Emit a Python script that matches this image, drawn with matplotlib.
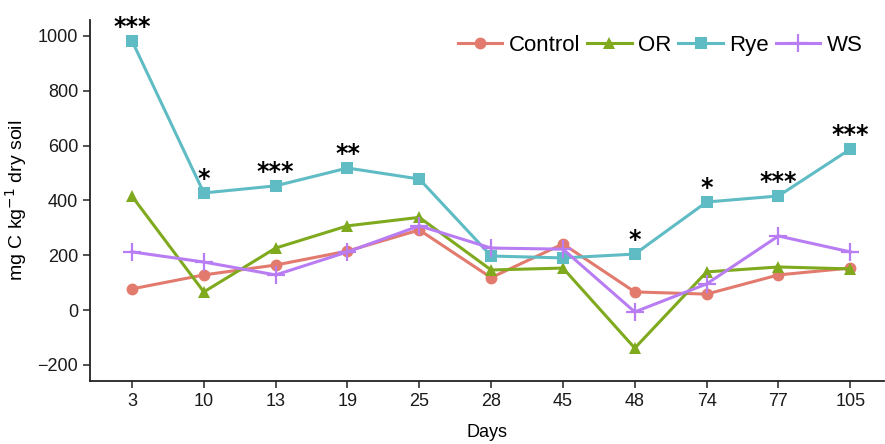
import matplotlib
matplotlib.use("Agg")
import matplotlib.pyplot as plt

plt.rcParams['font.family'] = ['Liberation Sans', 'DejaVu Sans']

days = ["3", "10", "13", "19", "25", "28", "45", "48", "74", "77", "105"]
control = [77, 128, 164, 215, 292, 118, 241, 66, 58, 128, 153]
oreg = [415, 66, 226, 307, 338, 146, 153, -139, 139, 157, 150]
rye = [982, 427, 453, 518, 478, 197, 190, 204, 394, 416, 587]
ws = [212, 175, 128, 212, 307, 226, 222, -7, 95, 270, 212]
sig = ["***", "*", "***", "**", "", "", "", "*", "*", "***", "***"]

series_names = ["Control", "OR", "Rye", "WS"]
colors = ["#E27A6E", "#7FAA1E", "#5FBCC4", "#B97DF3"]
markers = ["o", "^", "s", "+"]

fig = plt.figure(figsize=(8.85, 4.44), dpi=100)
ax = fig.add_axes([90/885, 63/444, (884-90)/885, (381-20)/444])

x = list(range(len(days)))
for name, vals, c, m in zip(series_names, [control, oreg, rye, ws], colors, markers):
    if m == "+":
        ax.plot(x, vals, color=c, lw=2.2, marker=m, ms=13, mew=1.6, label=name)
    else:
        ax.plot(x, vals, color=c, lw=2.2, marker=m, ms=8.5, mew=0, label=name)

for xi, s, r in zip(x, sig, rye):
    if s:
        ax.annotate(s, (xi, r), xytext=(0, 5), textcoords="offset points",
                    ha="center", va="baseline", fontsize=17, fontweight="bold",
                    family="DejaVu Sans", color="black")

ax.set_xlim(-0.585, 10.47)
ax.set_ylim(-259, 1058)
ax.set_xticks(x)
ax.set_xticklabels(days)
ax.set_yticks([-200, 0, 200, 400, 600, 800, 1000])
ax.set_yticklabels(["\u2212200", "0", "200", "400", "600", "800", "1000"])
ax.tick_params(labelsize=13, length=5, width=1.2, colors="#333333", labelcolor="#1a1a1a")
for s in ["top", "right"]:
    ax.spines[s].set_visible(False)
for s in ["left", "bottom"]:
    ax.spines[s].set_linewidth(1.3)
    ax.spines[s].set_color("#222222")

ax.set_xlabel("Days", fontsize=13, labelpad=10)
ax.set_ylabel("mg C kg$^{-1}$ dry soil", fontsize=14, labelpad=6)

leg = ax.legend(loc="upper right", ncol=4, frameon=False, fontsize=16,
                handlelength=2.0, handletextpad=0.3, columnspacing=0.3,
                bbox_to_anchor=(0.99, 0.995), borderaxespad=0.2)

fig.savefig("out.png", dpi=100)
